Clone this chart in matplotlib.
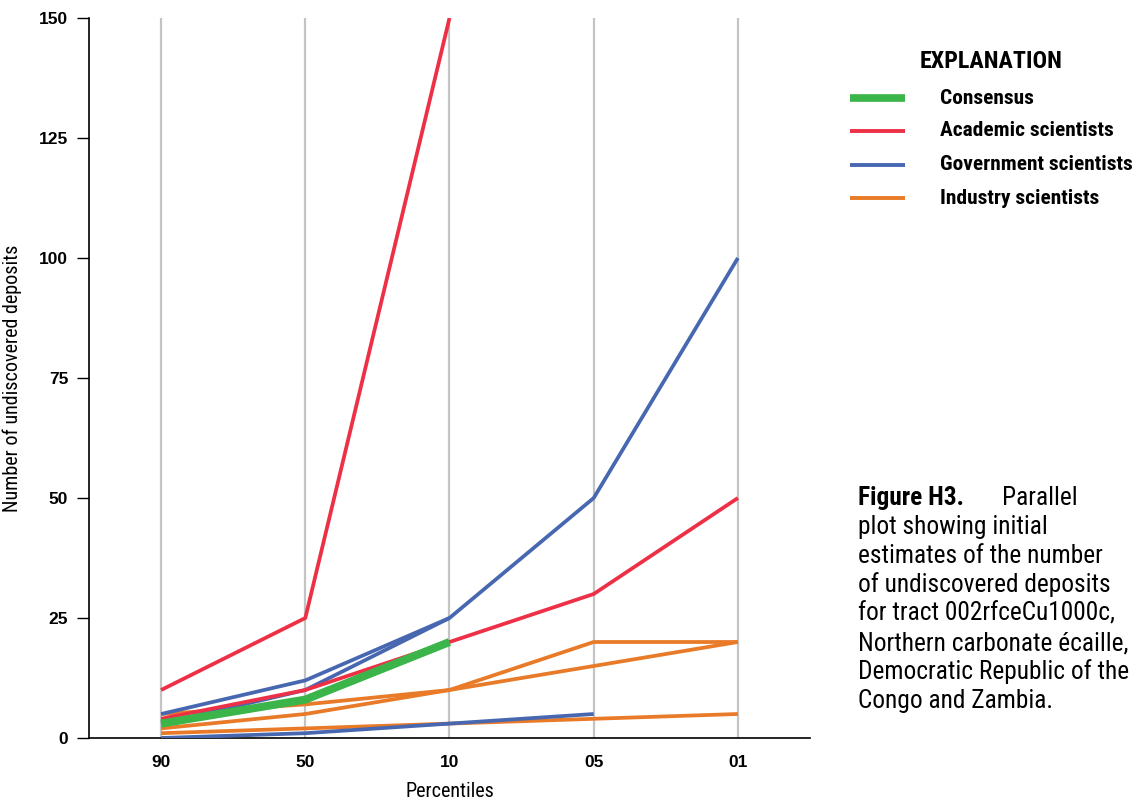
import numpy as np
import matplotlib
matplotlib.use("Agg")
import matplotlib.pyplot as plt
from matplotlib import font_manager

# Percentile categories along the x axis
percentiles = ["90", "50", "10", "05", "01"]

# Estimates of undiscovered deposits at each percentile (nan = not given)
nan = np.nan
consensus = [3, 8, 20, nan, nan]

academic = [
    [10, 25, 150, nan, nan],
    [4, 10, 20, 30, 50],
]
government = [
    [5, 12, 25, 50, 100],
    [3, 10, 25, nan, nan],
    [0, 1, 3, 5, nan],
]
industry = [
    [5, 7, 10, 20, 20],
    [2, 5, 10, 15, 20],
    [1, 2, 3, 4, 5],
]

group_labels = ["Consensus", "Academic scientists", "Government scientists", "Industry scientists"]
colors = {
    "Consensus": "#3BB44A",
    "Academic scientists": "#EE3047",
    "Government scientists": "#4768B1",
    "Industry scientists": "#E87A28",
}

names = {f.name for f in font_manager.fontManager.ttflist}
candidates = ["Roboto Condensed", "Archivo Narrow", "PT Sans Narrow", "Fira Sans Condensed",
              "IBM Plex Sans Condensed", "Pragati Narrow", "Liberation Sans Narrow", "DejaVu Sans"]
narrow = next(c for c in candidates if c in names)
plt.rcParams["font.family"] = [narrow, "DejaVu Sans"]

fig = plt.figure(figsize=(11.37, 8.0), dpi=100)
ax = fig.add_axes([89 / 1137, 62 / 800, (810 - 89) / 1137, 720 / 800])

x = np.arange(len(percentiles))

for xi in x:
    ax.axvline(xi, color="#C4C4C4", lw=1.6, zorder=0)

lw = 2.7
for series in industry:
    ax.plot(x, series, color=colors["Industry scientists"], lw=lw, zorder=2, solid_capstyle="butt")
for series in government:
    ax.plot(x, series, color=colors["Government scientists"], lw=lw, zorder=3, solid_capstyle="butt")
for series in academic:
    ax.plot(x, series, color=colors["Academic scientists"], lw=lw, zorder=3, solid_capstyle="butt")
ax.plot(x, consensus, color=colors["Consensus"], lw=5.8, zorder=4, solid_capstyle="butt")

ax.set_xlim(-0.5, 4.5)
ax.set_ylim(0, 150)
ax.set_xticks(x)
ax.set_xticklabels(percentiles)
ax.set_yticks([0, 25, 50, 75, 100, 125, 150])
ax.tick_params(axis="x", length=0, pad=12, labelsize=12.5)
ax.tick_params(axis="y", length=9, width=1, direction="out", pad=6, labelsize=12.5)
for lab in ax.get_xticklabels() + ax.get_yticklabels():
    lab.set_fontfamily(["Liberation Sans", "DejaVu Sans"])
    lab.set_fontweight("bold")

for side in ("top", "right"):
    ax.spines[side].set_visible(False)
for side in ("left", "bottom"):
    ax.spines[side].set_linewidth(1.2)
ax.spines["left"].set_zorder(5)

ax.set_xlabel("Percentiles", fontsize=14.5, labelpad=9)
ax.set_ylabel("Number of undiscovered deposits", fontsize=14.5, labelpad=12)
ax.patch.set_visible(False)

# Explanation (legend)
fig.text(991 / 1137, 1 - 62 / 800, "EXPLANATION", ha="center", va="center",
         fontsize=17.3, fontweight="bold")
row_y = [98, 131, 165, 198]
widths = [5.5, 2.8, 2.8, 2.8]
for lbl, yy, w in zip(group_labels, row_y, widths):
    fy = 1 - yy / 800
    fig.add_artist(plt.Line2D([850 / 1137, 905 / 1137], [fy, fy], color=colors[lbl], lw=w,
                              solid_capstyle="butt", transform=fig.transFigure))
    fig.text(940 / 1137, fy, lbl, ha="left", va="center", fontsize=15.4, fontweight="bold")

# Figure caption
cap_x = 858 / 1137
fig.text(cap_x, 1 - 498 / 800, "Figure H3.", ha="left", va="center", fontsize=18.3, fontweight="bold")
fig.text(1002 / 1137, 1 - 498 / 800, "Parallel", ha="left", va="center", fontsize=18.3)
caption_lines = [
    "plot showing initial",
    "estimates of the number",
    "of undiscovered deposits",
    "for tract 002rfceCu1000c,",
    "Northern carbonate écaille,",
    "Democratic Republic of the",
    "Congo and Zambia.",
]
for i, line in enumerate(caption_lines):
    fig.text(cap_x, 1 - (527 + 29 * i) / 800, line, ha="left", va="center", fontsize=18.3)

fig.savefig("out.png", dpi=100)
